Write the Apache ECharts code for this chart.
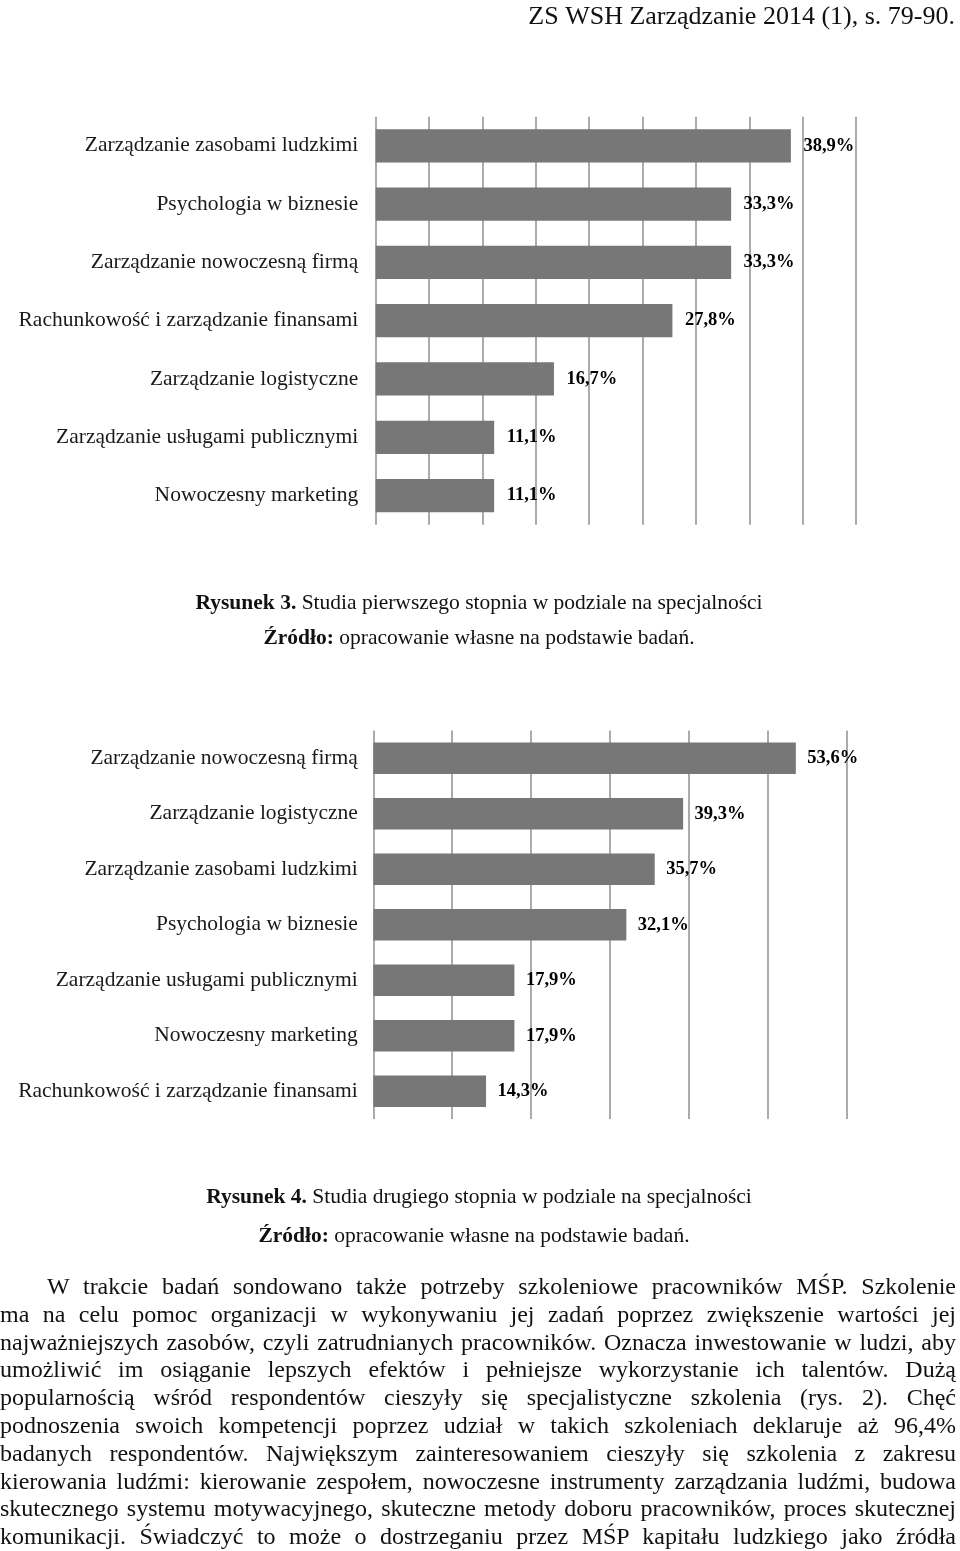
<!DOCTYPE html>
<html><head><meta charset="utf-8">
<script src="https://cdn.jsdelivr.net/npm/echarts@6/dist/echarts.min.js"></script>
<style>
html,body{margin:0;padding:0;background:#fff;}
#chart{position:absolute;left:0;top:0;width:960px;height:1551px;}
#para{position:absolute;left:0;top:1273px;width:956px;font-family:"Liberation Serif",serif;font-size:24px;color:#111;}
#para div{height:27.8px;line-height:27.8px;text-align:justify;text-align-last:justify;}
</style></head>
<body>
<div id="chart"></div>
<div id="para"></div>
<script>
// ---- data ----
const cats1 = ["Zarządzanie zasobami ludzkimi","Psychologia w biznesie","Zarządzanie nowoczesną firmą","Rachunkowość i zarządzanie finansami","Zarządzanie logistyczne","Zarządzanie usługami publicznymi","Nowoczesny marketing"];
const vals1 = [38.9,33.3,33.3,27.8,16.7,11.1,11.1];
const cats2 = ["Zarządzanie nowoczesną firmą","Zarządzanie logistyczne","Zarządzanie zasobami ludzkimi","Psychologia w biznesie","Zarządzanie usługami publicznymi","Nowoczesny marketing","Rachunkowość i zarządzanie finansami"];
const vals2 = [53.6,39.3,35.7,32.1,17.9,17.9,14.3];
const header = "ZS WSH Zarządzanie 2014 (1), s. 79-90.";
const caption3 = ["Rysunek 3.", " Studia pierwszego stopnia w podziale na specjalności"];
const caption4 = ["Rysunek 4.", " Studia drugiego stopnia w podziale na specjalności"];
const source = ["Źródło:", " opracowanie własne na podstawie badań."];
const paraLines = [
"W trakcie badań sondowano także potrzeby szkoleniowe pracowników MŚP. Szkolenie",
"ma na celu pomoc organizacji w wykonywaniu jej zadań poprzez zwiększenie wartości jej",
"najważniejszych zasobów, czyli zatrudnianych pracowników. Oznacza inwestowanie w ludzi, aby",
"umożliwić im osiąganie lepszych efektów i pełniejsze wykorzystanie ich talentów. Dużą",
"popularnością wśród respondentów cieszyły się specjalistyczne szkolenia (rys. 2). Chęć",
"podnoszenia swoich kompetencji poprzez udział w takich szkoleniach deklaruje aż 96,4%",
"badanych respondentów. Największym zainteresowaniem cieszyły się szkolenia z zakresu",
"kierowania ludźmi: kierowanie zespołem, nowoczesne instrumenty zarządzania ludźmi, budowa",
"skutecznego systemu motywacyjnego, skuteczne metody doboru pracowników, proces skutecznej",
"komunikacji. Świadczyć to może o dostrzeganiu przez MŚP kapitału ludzkiego jako źródła"
];

// ---- paragraph ----
const para = document.getElementById('para');
paraLines.forEach((l,i)=>{
  const d=document.createElement('div');
  d.textContent=l;
  if(i===0) d.style.paddingLeft='47px';
  para.appendChild(d);
});

// ---- chart ----
const FONT = '"Liberation Serif", "Times New Roman", serif';
const fmt = p => p.value.toFixed(1).replace('.', ',') + '%';
const chart = echarts.init(document.getElementById('chart'), null, {renderer:'canvas'});
function capText(parts, x, y){
  return {type:'text', x:x, y:y, style:{
    text:'{b|'+parts[0]+'}{r|'+parts[1]+'}',
    align:'center', verticalAlign:'middle',
    rich:{b:{fontFamily:FONT,fontWeight:'bold',fontSize:21.5,fill:'#111'},r:{fontFamily:FONT,fontSize:21.5,fill:'#111'}}
  }};
}
const splitLine = {show:true, lineStyle:{color:'#8f8f8f', width:1.5}};
chart.setOption({
  animation:false,
  backgroundColor:'#fff',
  grid:[
    {left:375.7, top:116.7, width:480.3, height:408},
    {left:373.3, top:730.5, width:473, height:388.5}
  ],
  xAxis:[
    {gridIndex:0, type:'value', min:0, max:45, interval:5, axisLabel:{show:false}, axisLine:{show:false}, axisTick:{show:false}, splitLine:splitLine},
    {gridIndex:1, type:'value', min:0, max:60, interval:10, axisLabel:{show:false}, axisLine:{show:false}, axisTick:{show:false}, splitLine:splitLine}
  ],
  yAxis:[
    {gridIndex:0, type:'category', inverse:true, data:cats1, axisLine:{show:false}, axisTick:{show:false},
     axisLabel:{fontFamily:FONT, fontSize:21.5, color:'#1a1a1a', margin:17.5}},
    {gridIndex:1, type:'category', inverse:true, data:cats2, axisLine:{show:false}, axisTick:{show:false},
     axisLabel:{fontFamily:FONT, fontSize:21.5, color:'#1a1a1a', margin:15.5}}
  ],
  series:[
    {type:'bar', xAxisIndex:0, yAxisIndex:0, data:vals1, barCategoryGap:'43%', itemStyle:{color:'#777777'},
     label:{show:true, position:'right', distance:12.5, formatter:fmt, fontFamily:FONT, fontWeight:'bold', fontSize:18.5, color:'#000'}},
    {type:'bar', xAxisIndex:1, yAxisIndex:1, data:vals2, barCategoryGap:'43%', itemStyle:{color:'#777777'},
     label:{show:true, position:'right', distance:11.5, formatter:fmt, fontFamily:FONT, fontWeight:'bold', fontSize:18.5, color:'#000'}}
  ],
  graphic:[
    {type:'text', x:955, y:17, style:{text:header, align:'right', verticalAlign:'middle', fontFamily:FONT, fontSize:26, fill:'#111'}},
    capText(caption3, 479, 603),
    capText(source, 479, 638),
    capText(caption4, 479, 1197),
    capText(source, 474, 1236)
  ]
});
</script>
</body></html>
